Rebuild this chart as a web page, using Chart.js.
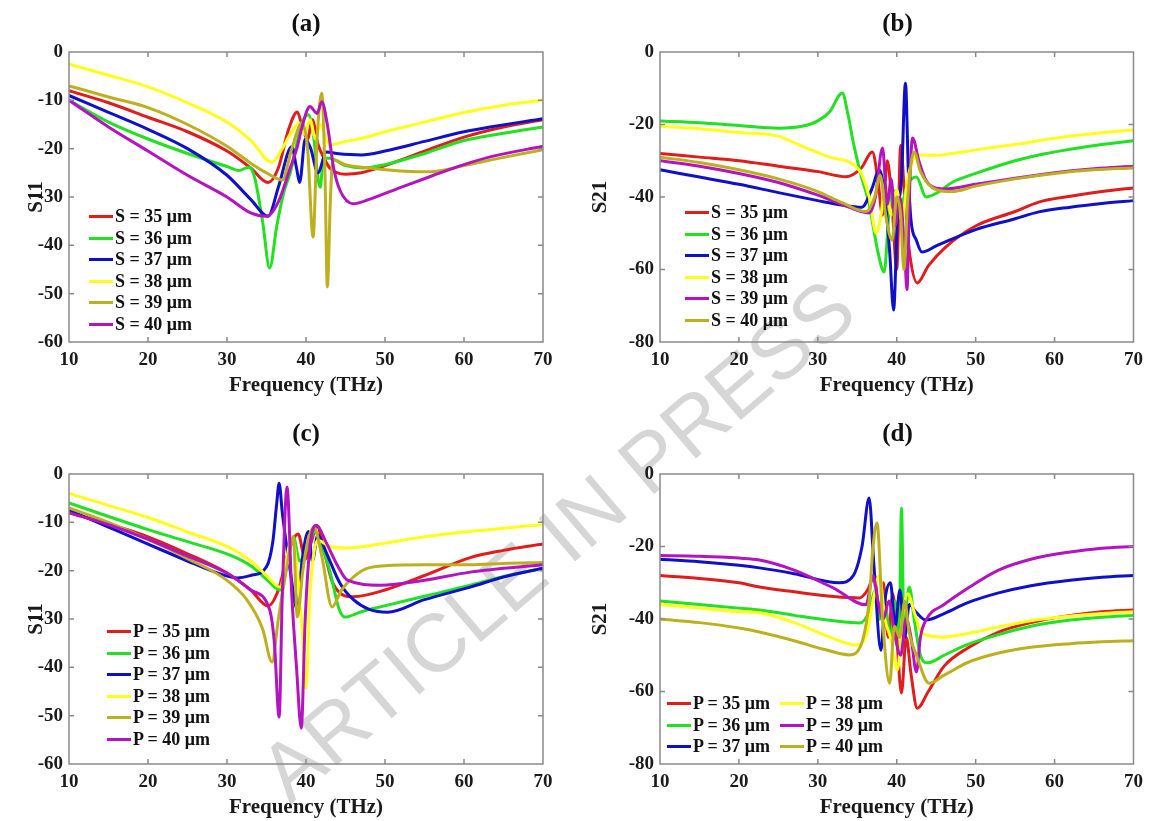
<!DOCTYPE html>
<html>
<head>
<meta charset="utf-8">
<script src="https://cdn.jsdelivr.net/npm/chart.js@4.4.0/dist/chart.umd.min.js"></script>
<style>
  body { margin: 0; background: #fff; width: 1150px; height: 821px; position: relative; overflow: hidden;
         font-family: "Liberation Serif", "Times New Roman", serif; }
  canvas { position: absolute; z-index: 2; }
  .ptitle { position: absolute; font-weight: bold; font-size: 25px; transform: translate(-50%, -50%); z-index: 3; color: #111; }
  .legend { position: absolute; font-weight: bold; font-size: 18px; line-height: 21.5px; z-index: 3; color: #111; }
  .legend .row { display: flex; align-items: center; white-space: nowrap; height: 21.5px; }
  .legend .sw { display: inline-block; width: 24px; height: 3px; margin-right: 2px; }
  .legend.two { display: grid; grid-template-columns: 113px 120px; }
  #wm { position: absolute; left: 557px; top: 540px; transform: translate(-50%, -50%) rotate(-40.5deg);
        font-family: "Liberation Sans", Arial, sans-serif; font-size: 82px; color: #d6d6d6; white-space: nowrap; z-index: 1; }
</style>
</head>
<body>
<div id="wm">ARTICLE IN PRESS</div>
<canvas id="ca" width="575" height="410" style="left:0;top:0"></canvas>
<canvas id="cb" width="575" height="410" style="left:575px;top:0"></canvas>
<canvas id="cc" width="575" height="411" style="left:0;top:410px"></canvas>
<canvas id="cd" width="575" height="411" style="left:575px;top:410px"></canvas>

<script>
// ---- data (frequency THz, dB) ----
const RED = '#e01c1c', GREEN = '#22e022', BLUE = '#1010c8', YELLOW = '#ffff1a', OLIVE = '#bcb01e', MAGENTA = '#b414c0';
// S11 panels: 5th = olive, 6th = magenta; S21 panels: 5th = magenta, 6th = olive
const colorsS11 = [RED, GREEN, BLUE, YELLOW, OLIVE, MAGENTA];
const colorsS21 = [RED, GREEN, BLUE, YELLOW, MAGENTA, OLIVE];
const sLabels = ['S = 35 \u03bcm', 'S = 36 \u03bcm', 'S = 37 \u03bcm', 'S = 38 \u03bcm', 'S = 39 \u03bcm', 'S = 40 \u03bcm'];
const pLabels = ['P = 35 \u03bcm', 'P = 36 \u03bcm', 'P = 37 \u03bcm', 'P = 38 \u03bcm', 'P = 39 \u03bcm', 'P = 40 \u03bcm'];
const panelTitles = ['(a)', '(b)', '(c)', '(d)'];

// (a) S11 vs S
const a_S35 = [[10,-8],[15,-10.5],[20,-13.5],[25,-16.5],[30,-20.5],[33,-24],[35.2,-27],[36.5,-24],[37.8,-16],[38.9,-12.4],[39.6,-16],[40.2,-18],[40.8,-14],[41.5,-19],[42.3,-22],[43,-24],[45,-25.3],[47,-25],[50,-23.5],[55,-20.5],[60,-17.6],[65,-15.5],[70,-14]];
const a_S36 = [[10,-10],[15,-14.5],[20,-18],[25,-21],[30,-23.7],[31.5,-24.5],[32.8,-23.8],[33.5,-26],[34.5,-35],[35.4,-44.7],[36.3,-36],[37.2,-29],[38,-25],[39.5,-14.7],[40.3,-13],[41,-18],[41.5,-26],[41.8,-28],[42.2,-22],[43,-22],[45,-23.5],[47.2,-24],[50,-23.3],[55,-21],[60,-18.3],[65,-16.8],[70,-15.5]];
const a_S37 = [[10,-9],[15,-12.5],[20,-16],[25,-20],[30,-25.5],[33,-30.5],[35.2,-34],[36.5,-28],[38.2,-19.6],[38.8,-24],[39.2,-27],[39.9,-18],[40.6,-20],[41.5,-25],[42.6,-20.7],[43.9,-21],[47,-21.3],[50,-20.5],[55,-18.5],[60,-16.5],[63.3,-15.5],[70,-13.8]];
const a_S38 = [[10,-2.5],[15,-4.8],[20,-7.2],[25,-10.5],[30,-14.5],[33,-18.3],[35.7,-22.8],[37,-20],[38,-17],[39.2,-14.7],[39.8,-17],[40.5,-14],[41.2,-18],[41.8,-15],[43,-19.2],[45,-18.5],[47.2,-17.8],[50,-16.5],[55,-14.5],[60,-12.5],[65,-11],[70,-10]];
const a_S39 = [[10,-7],[15,-9.3],[20,-11.5],[25,-15],[30,-19.5],[33,-23],[35,-25],[37,-26.5],[38.2,-20],[39.5,-14.7],[40.2,-20],[40.9,-38.3],[41.4,-18],[42,-8.5],[42.4,-25],[42.7,-48.6],[43.1,-30],[43.4,-22.3],[45,-23.3],[48,-24],[52,-24.6],[55.7,-24.8],[60,-23.5],[65,-21.8],[70,-20.2]];
const a_S40 = [[10,-10],[15,-15.5],[20,-20.5],[25,-25.5],[30,-30],[33,-33.3],[35,-34],[36.5,-31],[38,-24],[38.9,-19.6],[39.5,-15.5],[40.5,-11.3],[41.4,-12.7],[42,-10.3],[42.7,-15],[43.5,-24],[44.3,-28.6],[46,-31.4],[48,-30.5],[52,-28],[56,-25.6],[60,-23.3],[63.3,-21.7],[70,-19.5]];

// (b) S21 vs S
const b_S35 = [[10,-28],[15,-29],[20,-30],[25,-31.5],[30,-33],[33.6,-34.4],[35.5,-32],[36.9,-27.6],[37.6,-35],[38.2,-45],[38.8,-30],[39.4,-42],[40,-60],[40.5,-25.7],[41,-40],[41.6,-55],[42.6,-63.7],[44,-59],[46.2,-53.8],[50,-48],[55,-44],[58,-41.4],[62,-39.8],[66,-38.5],[70,-37.5]];
const b_S36 = [[10,-19],[15,-19.5],[20,-20.3],[25,-21],[28,-20.5],[30,-19],[31.5,-16.5],[33.1,-11.3],[33.8,-17],[34.5,-25],[35.3,-32.6],[36.5,-42],[37.6,-55],[38.4,-60.7],[39,-45],[39.5,-38],[40.5,-42],[41.5,-36],[42.5,-34.5],[43.7,-40],[45,-39],[47,-36],[50,-33.5],[55,-30],[58,-28.4],[62,-26.8],[66,-25.5],[70,-24.5]];
const b_S37 = [[10,-32.5],[15,-34.5],[20,-36.5],[25,-38.8],[30,-41],[33,-42.2],[35.6,-42.8],[36.8,-38],[37.8,-32.6],[38.5,-40],[39.1,-55],[39.6,-71.2],[40.1,-45],[40.6,-35],[41.1,-8.6],[41.5,-35],[41.8,-46.3],[42.5,-52],[43.2,-55.2],[45,-53.5],[50,-49],[55,-46],[58,-44.1],[62,-42.8],[66,-41.8],[70,-41]];
const b_S38 = [[10,-20.5],[15,-21.2],[20,-22.2],[25,-23.2],[28,-26],[31.5,-29],[35.3,-32.8],[36.5,-40],[37.4,-50],[38,-45],[38.6,-36],[39.3,-45],[40,-38],[40.7,-47],[41.3,-36],[42,-30],[42.8,-28.4],[45,-28.5],[47,-28],[50,-27],[55,-25.5],[60,-23.8],[65,-22.5],[70,-21.5]];
const b_S39 = [[10,-30],[15,-31.5],[20,-33.5],[25,-36],[30,-39.5],[33,-42],[36.5,-44.4],[37.3,-40],[38.2,-26.5],[38.8,-42],[39.3,-35],[39.8,-48],[40.4,-40],[41,-55],[41.3,-65.6],[41.6,-40],[42,-23.7],[42.8,-30],[43.6,-35],[44.5,-37.2],[46,-37.8],[50,-36.5],[55,-34.8],[60,-33.3],[65,-32.2],[70,-31.5]];
const b_S40 = [[10,-29],[15,-30.5],[20,-32.5],[25,-35],[30,-38.5],[33,-41.5],[36.1,-44],[37.2,-40],[37.9,-34],[38.6,-45],[39.4,-51.9],[40,-40],[40.5,-45],[40.9,-60],[41.4,-40],[42.2,-27.6],[43,-33],[45,-38],[47,-38.5],[50,-37],[55,-35],[60,-33.5],[65,-32.5],[70,-32]];

// (c) S11 vs P
const c_P35 = [[10,-8],[15,-10.3],[20,-13],[25,-16.5],[30,-20.5],[33,-24],[35.2,-27.3],[36.5,-24],[37.8,-16],[39,-12.4],[39.9,-17.6],[40.5,-15],[41.4,-10.8],[42.3,-16],[43.4,-22.6],[46,-25.4],[50,-24],[55,-21],[60.8,-17.3],[65,-15.8],[70,-14.5]];
const c_P36 = [[10,-6],[15,-8.8],[20,-11.5],[25,-14],[30.4,-16.8],[33,-19],[35,-21.8],[36.7,-24],[37.6,-19],[38.4,-13],[39.2,-18],[40,-16],[41.1,-12],[42,-15],[43,-20],[44.2,-28],[44.9,-29.6],[47,-28.5],[49.4,-27.5],[55,-25.3],[60.8,-23],[65,-21.2],[70,-19.5]];
const c_P37 = [[10,-7.5],[15,-11],[20,-14.5],[25,-18],[28,-20],[31.3,-21.5],[33,-21],[35,-19.2],[35.8,-14],[36.3,-6],[36.6,-1.9],[37,-8],[38,-20],[38.9,-28.1],[39.5,-18],[40.3,-11.9],[40.8,-18],[41.5,-12.6],[42.5,-16],[44.3,-22.6],[46,-26],[48,-28],[50.3,-28.6],[55,-26],[60.8,-23.4],[65,-21.3],[70,-19.5]];
const c_P38 = [[10,-4],[15,-6.5],[20,-9],[25,-12],[30.4,-15.3],[33,-18],[35,-21],[36.7,-23.4],[37.5,-18],[38.2,-13],[38.9,-20],[39.5,-32],[40,-44.3],[40.5,-25],[41.5,-13.7],[43,-15],[45,-15.3],[47.2,-15],[50,-14.3],[55,-13],[60,-12],[65,-11.2],[70,-10.5]];
const c_P39 = [[10,-7],[15,-10],[20,-13.5],[25,-17.5],[30,-22],[32.5,-26],[34.5,-32],[35.7,-38.9],[36.5,-30],[37.5,-20],[38.4,-13],[38.9,-29.6],[39.6,-20],[40.2,-14],[41,-11],[42,-17],[43.3,-27.5],[44.5,-24],[47.2,-19.9],[50,-19],[55,-18.8],[60.8,-18.8],[65,-18.5],[70,-18.3]];
const c_P40 = [[10,-8],[15,-10.5],[20,-13.5],[25,-17],[30.4,-20.9],[33,-24],[35.4,-28.1],[36,-35],[36.6,-50.3],[37,-25],[37.6,-2.7],[38.2,-25],[38.8,-40],[39.4,-52.6],[39.9,-30],[40.5,-15],[41.3,-10.6],[42.5,-14],[44,-19],[45.2,-21.9],[49.4,-23],[55,-22],[60.8,-20.3],[70,-18.8]];

// (d) S21 vs P
const d_P35 = [[10,-28],[15,-28.8],[20,-30],[22.6,-31.2],[27,-32.5],[32,-33.8],[35.3,-34.2],[36.3,-32],[37.2,-27.9],[37.8,-40],[38.3,-30],[38.9,-45],[39.5,-33],[40,-45],[40.6,-60.4],[41.2,-45],[41.8,-55],[42.6,-64.6],[44,-60],[46,-53],[49,-48],[52.9,-43.6],[57,-41],[62,-39],[66,-38],[70,-37.5]];
const d_P36 = [[10,-35],[15,-36],[20,-37],[22.6,-37.5],[27,-39],[32,-40.5],[35.3,-41.1],[36.5,-38],[37.3,-32],[37.9,-40],[38.5,-36],[39.2,-45],[39.8,-35],[40.3,-45],[40.6,-9.4],[40.9,-40],[41.6,-31.2],[42.2,-40],[43,-50],[43.9,-52.1],[46,-50],[49,-47],[52.9,-44.3],[57,-42],[62,-40.3],[66,-39.5],[70,-39]];
const d_P37 = [[10,-23.5],[15,-24.2],[20,-25.2],[22.6,-25.9],[27,-27.5],[32.7,-30],[34.5,-28],[35.6,-20],[36.5,-6.6],[37.1,-25],[38,-48.6],[38.5,-35],[39.2,-30],[39.8,-42],[40.4,-32],[41,-45],[41.6,-36],[42.4,-38],[43.7,-40.3],[46,-38.5],[49,-35.5],[52.9,-32.8],[57,-30.8],[62,-29.3],[66,-28.5],[70,-28]];
const d_P38 = [[10,-36],[15,-37],[20,-38],[22.6,-38.3],[27,-41],[31,-44.5],[34.9,-47.2],[36.2,-44],[37,-35],[37.8,-28],[38.5,-40],[39.2,-45],[40.1,-54],[40.7,-40],[41.4,-33],[42.2,-38],[43.2,-43.9],[45.8,-45],[49,-44],[52.9,-42.2],[57,-40.5],[62,-39.2],[66,-38.5],[70,-38]];
const d_P39 = [[10,-22.5],[15,-22.7],[20,-23.2],[22.6,-23.7],[27,-26.5],[32,-31.5],[36.1,-36.1],[37,-28],[37.6,-35],[38.3,-40],[39,-35],[39.8,-45],[40.5,-50],[41.2,-40],[41.8,-45],[42.5,-54.6],[43,-45],[43.7,-40.3],[46,-36],[49,-31.5],[52.9,-26.5],[57,-23.5],[62,-21.5],[66,-20.5],[70,-20]];
const d_P40 = [[10,-40],[15,-41],[20,-42.5],[22.6,-43.6],[27,-46],[31,-48.5],[34,-49.9],[35.5,-47],[36.5,-35],[37,-20],[37.5,-13.5],[38.2,-40],[39.1,-57.7],[39.7,-42],[40.4,-45],[41,-35],[41.6,-44],[42.5,-50],[44.1,-57.7],[46,-55.5],[49,-52],[52.9,-49.4],[57,-47.8],[62,-46.8],[66,-46.3],[70,-46]];

// ---- layout (absolute page pixels) ----
const panels = [
  { id: 'ca', series: [a_S35, a_S36, a_S37, a_S38, a_S39, a_S40], labels: sLabels, colors: colorsS11, yTitle: 'S11', yMin: -60, yStep: 10,
    canvas: [0, 0, 575, 410], plot: [69, 52, 543, 342], yTitleX: 37, xTitleY: 386,
    legend: { left: 89, top: 206, cols: 1 } },
  { id: 'cb', series: [b_S35, b_S36, b_S37, b_S38, b_S39, b_S40], labels: sLabels, colors: colorsS21, yTitle: 'S21', yMin: -80, yStep: 20,
    canvas: [575, 0, 575, 410], plot: [660, 52, 1135, 342], yTitleX: 601, xTitleY: 386,
    legend: { left: 685, top: 202, cols: 1 } },
  { id: 'cc', series: [c_P35, c_P36, c_P37, c_P38, c_P39, c_P40], labels: pLabels, colors: colorsS11, yTitle: 'S11', yMin: -60, yStep: 10,
    canvas: [0, 410, 575, 411], plot: [69, 474, 543, 764], yTitleX: 37, xTitleY: 808,
    legend: { left: 107, top: 621, cols: 1 } },
  { id: 'cd', series: [d_P35, d_P36, d_P37, d_P38, d_P39, d_P40], labels: pLabels, colors: colorsS21, yTitle: 'S21', yMin: -80, yStep: 20,
    canvas: [575, 410, 575, 411], plot: [660, 474, 1135, 764], yTitleX: 601, xTitleY: 808,
    legend: { left: 667, top: 693, cols: 2 } }
];

const framePlugin = {
  id: 'frame',
  afterDatasetsDraw(chart) {
    const { ctx, chartArea: a, scales: { x, y } } = chart;
    ctx.save();
    ctx.strokeStyle = '#8a8a8a';
    ctx.lineWidth = 1.5;
    ctx.strokeRect(a.left, a.top, a.right - a.left, a.bottom - a.top);
    ctx.beginPath();
    x.ticks.forEach(t => {
      const px = x.getPixelForValue(t.value);
      if (px <= a.left + 1 || px >= a.right - 1) return;
      ctx.moveTo(px, a.bottom); ctx.lineTo(px, a.bottom - 5);
      ctx.moveTo(px, a.top); ctx.lineTo(px, a.top + 5);
    });
    y.ticks.forEach(t => {
      const py = y.getPixelForValue(t.value);
      if (py <= a.top + 1 || py >= a.bottom - 1) return;
      ctx.moveTo(a.left, py); ctx.lineTo(a.left + 5, py);
      ctx.moveTo(a.right, py); ctx.lineTo(a.right - 5, py);
    });
    ctx.stroke();
    ctx.restore();
  }
};

const serif = '"Liberation Serif", "Times New Roman", serif';

panels.forEach((p, idx) => {
  const [cl, ct, cw, ch] = p.canvas;
  const [pl, pt, pr, pb] = p.plot;
  const yWidth = pl - cl;
  const xHeight = ct + ch - pb;
  const titleFont = { family: serif, size: 21, weight: 'bold' };
  const half = 21 * 1.2 / 2;

  const datasets = p.series.map((s, i) => ({
    label: p.labels[i],
    data: s.map(v => ({ x: v[0], y: v[1] })),
    borderColor: p.colors[i],
    backgroundColor: p.colors[i],
    borderWidth: 3,
    pointRadius: 0,
    cubicInterpolationMode: 'monotone',
    order: 5 - i
  }));

  new Chart(document.getElementById(p.id), {
    type: 'line',
    data: { datasets: datasets },
    options: {
      responsive: false,
      animation: false,
      layout: { padding: { left: 0, top: pt - ct, right: cl + cw - pr, bottom: 0 } },
      plugins: { legend: { display: false }, tooltip: { enabled: false } },
      scales: {
        x: {
          type: 'linear', min: 10, max: 70,
          afterFit: s => { s.height = xHeight; },
          grid: { display: false, drawTicks: false },
          border: { display: false },
          ticks: { stepSize: 10, padding: 7, color: '#1a1a1a', maxRotation: 0,
                   font: { family: serif, size: 19, weight: 'bold' } },
          title: { display: true, text: 'Frequency (THz)', color: '#1a1a1a', font: titleFont,
                   padding: { top: 0, bottom: (ct + ch) - p.xTitleY - half } }
        },
        y: {
          type: 'linear', min: p.yMin, max: 0,
          afterFit: s => { s.width = yWidth; },
          grid: { display: false, drawTicks: false },
          border: { display: false },
          ticks: { stepSize: p.yStep, padding: 6, color: '#1a1a1a',
                   font: { family: serif, size: 19, weight: 'bold' } },
          title: { display: true, text: p.yTitle, color: '#1a1a1a', font: titleFont,
                   padding: { top: p.yTitleX - cl - half, bottom: 0 } }
        }
      }
    },
    plugins: [framePlugin]
  });

  // panel title
  const t = document.createElement('div');
  t.className = 'ptitle';
  t.textContent = panelTitles[idx];
  t.style.left = ((pl + pr) / 2) + 'px';
  t.style.top = (ct + 23) + 'px';
  document.body.appendChild(t);

  // legend
  const lg = document.createElement('div');
  lg.className = 'legend' + (p.legend.cols === 2 ? ' two' : '');
  lg.style.left = p.legend.left + 'px';
  lg.style.top = p.legend.top + 'px';
  let order = [0, 1, 2, 3, 4, 5];
  if (p.legend.cols === 2) order = [0, 3, 1, 4, 2, 5];
  order.forEach(i => {
    const row = document.createElement('div');
    row.className = 'row';
    const sw = document.createElement('span');
    sw.className = 'sw';
    sw.style.background = p.colors[i];
    row.appendChild(sw);
    row.appendChild(document.createTextNode(p.labels[i]));
    lg.appendChild(row);
  });
  document.body.appendChild(lg);
});
</script>
</body>
</html>
